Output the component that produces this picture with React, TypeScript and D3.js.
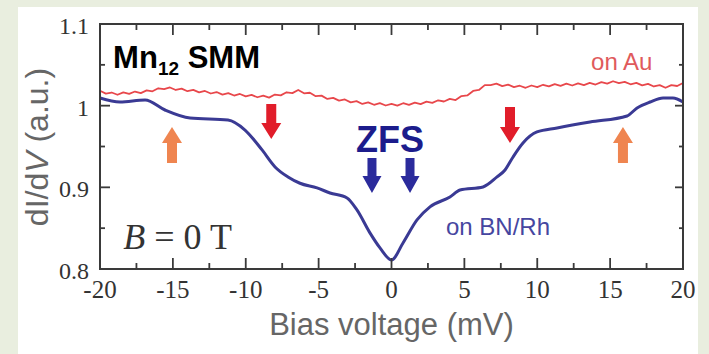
import React from "react";
import * as d3 from "d3";

const W = 709;
const H = 354;

// x ticks and y ticks
const xMajorTicks = [-20, -15, -10, -5, 0, 5, 10, 15, 20];
const xMinorTicks = [-17.5, -12.5, -7.5, -2.5, 2.5, 7.5, 12.5, 17.5];
const yMajorTicks = [0.8, 0.9, 1.0, 1.1];
const yMinorTicks = [0.85, 0.95, 1.05];
const yTickLabels = ["0.8", "0.9", "1", "1.1"];

// on Au (red), sampled every 0.4 mV from -20 to 20
const auStart = -20;
const auStep = 0.4;
const auValues = [
  1.0183, 1.0148, 1.0161, 1.0134, 1.0163, 1.0144, 1.0173, 1.0154, 1.0187, 1.0176,
  1.0213, 1.0202, 1.0223, 1.0192, 1.0209, 1.0177, 1.0194, 1.0163, 1.018, 1.0149,
  1.0167, 1.0136, 1.0154, 1.0124, 1.0143, 1.0114, 1.0132, 1.0103, 1.0122, 1.0098,
  1.0136, 1.0126, 1.0164, 1.0154, 1.0192, 1.0151, 1.0158, 1.0116, 1.0123, 1.0082,
  1.0096, 1.0062, 1.0076, 1.0041, 1.0055, 1.0021, 1.004, 1.0011, 1.0031, 1.0002,
  1.0021, 1.0001, 1.003, 1.001, 1.0038, 1.0019, 1.0049, 1.0034, 1.0066, 1.0051,
  1.0083, 1.0068, 1.0117, 1.0125, 1.018, 1.0192, 1.0251, 1.0252, 1.027, 1.024,
  1.0257, 1.0227, 1.0244, 1.0219, 1.0247, 1.0227, 1.0256, 1.0236, 1.0264, 1.0243,
  1.0269, 1.0247, 1.0273, 1.0252, 1.0278, 1.0259, 1.0289, 1.027, 1.0299, 1.0275,
  1.0292, 1.0262, 1.0279, 1.0249, 1.0267, 1.0235, 1.0251, 1.0219, 1.0251, 1.0241,
  1.0278,
];

// on BN/Rh (blue)
const bnBias = [
  -20, -18.63, -16.91, -15.54, -13.82, -11.22, -10.05, -8.88, -7.99, -7.1, -6.28,
  -5.11, -4.22, -3.05, -2.37, -1.48, -0.79, 0, 0.79, 1.75, 2.64, 4.01, 4.7, 6.28,
  7.24, 7.79, 8.34, 9.02, 9.98, 11.36, 13.62, 16.16, 16.85, 17.74, 18.63, 19.31, 20,
];
const bnValues = [
  1.0094, 1.0045, 1.007, 0.9947, 0.9849, 0.9825, 0.9702, 0.9458, 0.925, 0.9127, 0.905,
  0.8993, 0.8931, 0.887, 0.8723, 0.8442, 0.8258, 0.8111, 0.8319, 0.8601, 0.876, 0.8882,
  0.8968, 0.9005, 0.9127, 0.9213, 0.9372, 0.9543, 0.9678, 0.9727, 0.98, 0.9874, 0.9972,
  1.0045, 1.0094, 1.0094, 1.0045,
];

// annotation arrows: [bias, top value, bottom value]
const redArrows = [
  [-8.25, 1.0021, 0.9592],
  [8.13, 0.9984, 0.9543],
];
const orangeArrows = [
  [-15.06, 0.9739, 0.9299],
  [15.88, 0.9739, 0.9299],
];
const zfsArrows = [
  [-1.34, 0.936, 0.8932],
  [1.27, 0.936, 0.8932],
];

const margin = { left: 100, right: W - 683, top: 24, bottom: H - 269 };

export default function App() {
  const x = d3.scaleLinear().domain([-20, 20]).range([margin.left, W - margin.right]);
  const y = d3.scaleLinear().domain([0.8, 1.1]).range([H - margin.bottom, margin.top]);

  const auData = auValues.map((v, i) => [auStart + i * auStep, v] as [number, number]);
  const bnData = bnBias.map((b, i) => [b, bnValues[i]] as [number, number]);

  const auLine = d3
    .line<[number, number]>()
    .x((d) => x(d[0]))
    .y((d) => y(d[1]))
    .curve(d3.curveLinear);
  const bnLine = d3
    .line<[number, number]>()
    .x((d) => x(d[0]))
    .y((d) => y(d[1]))
    .curve(d3.curveMonotoneX);

  const x0 = x(-20), x1 = x(20), y0 = y(0.8), y1 = y(1.1);

  const arrowDown = (a: number[], shaft: number, head: number, headLen: number) => {
    const cx = x(a[0]);
    const top = y(a[1]);
    const tip = y(a[2]);
    const hb = tip - headLen;
    return `M${cx - shaft / 2},${top} L${cx + shaft / 2},${top} L${cx + shaft / 2},${hb} L${cx + head / 2},${hb} L${cx},${tip} L${cx - head / 2},${hb} L${cx - shaft / 2},${hb} Z`;
  };
  const arrowUp = (a: number[], shaft: number, head: number, headLen: number) => {
    const cx = x(a[0]);
    const tip = y(a[1]);
    const bottom = y(a[2]);
    const hb = tip + headLen;
    return `M${cx - shaft / 2},${bottom} L${cx + shaft / 2},${bottom} L${cx + shaft / 2},${hb} L${cx + head / 2},${hb} L${cx},${tip} L${cx - head / 2},${hb} L${cx - shaft / 2},${hb} Z`;
  };

  const axisColor = "#3a3a3a";
  const serif = "'Liberation Serif', 'Times New Roman', serif";
  const sans = "'Liberation Sans', Arial, sans-serif";

  return (
    <svg
      width={W}
      height={H}
      style={{ position: "absolute", left: 0, top: 0 }}
      xmlns="http://www.w3.org/2000/svg"
    >
      <rect x={0} y={0} width={W} height={H} fill="#e9eedf" />
      <rect x={18} y={7} width={680} height={H - 7} fill="#ffffff" />

      {/* data lines */}
      <path d={auLine(auData) || ""} fill="none" stroke="#e8474b" strokeWidth={1.8} strokeLinejoin="round" />
      <path d={bnLine(bnData) || ""} fill="none" stroke="#3a3a94" strokeWidth={3} strokeLinejoin="round" />

      {/* frame */}
      <rect x={x0} y={y1} width={x1 - x0} height={y0 - y1} fill="none" stroke={axisColor} strokeWidth={2} />

      {/* x ticks (bottom & top) */}
      {xMajorTicks.map((t) => (
        <g key={"xM" + t}>
          <line x1={x(t)} x2={x(t)} y1={y0} y2={y0 - 11} stroke={axisColor} strokeWidth={1.8} />
          <line x1={x(t)} x2={x(t)} y1={y1} y2={y1 + 11} stroke={axisColor} strokeWidth={1.8} />
          <text
            x={x(t)}
            y={y0 + 29}
            textAnchor="middle"
            fontFamily={serif}
            fontSize={25}
            fill="#333"
          >
            {t}
          </text>
        </g>
      ))}
      {xMinorTicks.map((t) => (
        <g key={"xm" + t}>
          <line x1={x(t)} x2={x(t)} y1={y0} y2={y0 - 6} stroke={axisColor} strokeWidth={1.8} />
          <line x1={x(t)} x2={x(t)} y1={y1} y2={y1 + 6} stroke={axisColor} strokeWidth={1.8} />
        </g>
      ))}

      {/* y ticks */}
      {yMajorTicks.map((t, i) => (
        <g key={"yM" + t}>
          <line x1={x0} x2={x0 + 10} y1={y(t)} y2={y(t)} stroke={axisColor} strokeWidth={1.8} />
          <line x1={x1} x2={x1 - 8} y1={y(t)} y2={y(t)} stroke={axisColor} strokeWidth={1.8} />
          <text
            x={x0 - 11}
            y={y(t) + 10}
            textAnchor="end"
            fontFamily={serif}
            fontSize={24}
            fill="#333"
          >
            {yTickLabels[i]}
          </text>
        </g>
      ))}
      {yMinorTicks.map((t) => (
        <g key={"ym" + t}>
          <line x1={x0} x2={x0 + 5} y1={y(t)} y2={y(t)} stroke={axisColor} strokeWidth={1.8} />
          <line x1={x1} x2={x1 - 4} y1={y(t)} y2={y(t)} stroke={axisColor} strokeWidth={1.8} />
        </g>
      ))}

      {/* axis titles */}
      <text
        x={(x0 + x1) / 2}
        y={335}
        textAnchor="middle"
        fontFamily={sans}
        fontSize={31}
        fill="#666"
      >
        Bias voltage (mV)
      </text>
      <text
        transform={`translate(48, ${147}) rotate(-90)`}
        textAnchor="middle"
        fontFamily={sans}
        fontSize={32}
        fill="#666"
      >
        dI/d<tspan fontStyle="italic">V</tspan> (a.u.)
      </text>

      {/* arrows */}
      {redArrows.map((a, i) => (
        <path key={"r" + i} d={arrowDown(a, 10, 20, 16)} fill="#e11d2a" />
      ))}
      {orangeArrows.map((a, i) => (
        <path key={"o" + i} d={arrowUp(a, 10, 20, 16)} fill="#ef8550" />
      ))}
      {zfsArrows.map((a, i) => (
        <path key={"z" + i} d={arrowDown(a, 9, 19, 17)} fill="#2b2b9c" />
      ))}

      {/* annotation texts */}
      <text x={x(-19.1)} y={y(1.046)} fontFamily={sans} fontSize={31} fontWeight="bold" fill="#000">
        Mn<tspan fontSize={19} dy={7}>12</tspan>
        <tspan dy={-7}> SMM</tspan>
      </text>
      <text x={x(-0.1)} y={y(0.9433)} textAnchor="middle" fontFamily={sans} fontSize={36} fontWeight="bold" fill="#1c1c8c">
        ZFS
      </text>
      <text x={x(13.69)} y={y(1.0437)} fontFamily={sans} fontSize={24} fill="#e05a5c">
        on Au
      </text>
      <text x={x(3.74)} y={y(0.842)} fontFamily={sans} fontSize={24} fill="#4646a0">
        on BN/Rh
      </text>
      <text x={x(-18.4)} y={y(0.8245)} fontFamily={serif} fontSize={36} fill="#333">
        <tspan fontStyle="italic">B</tspan> = 0 T
      </text>
    </svg>
  );
}
